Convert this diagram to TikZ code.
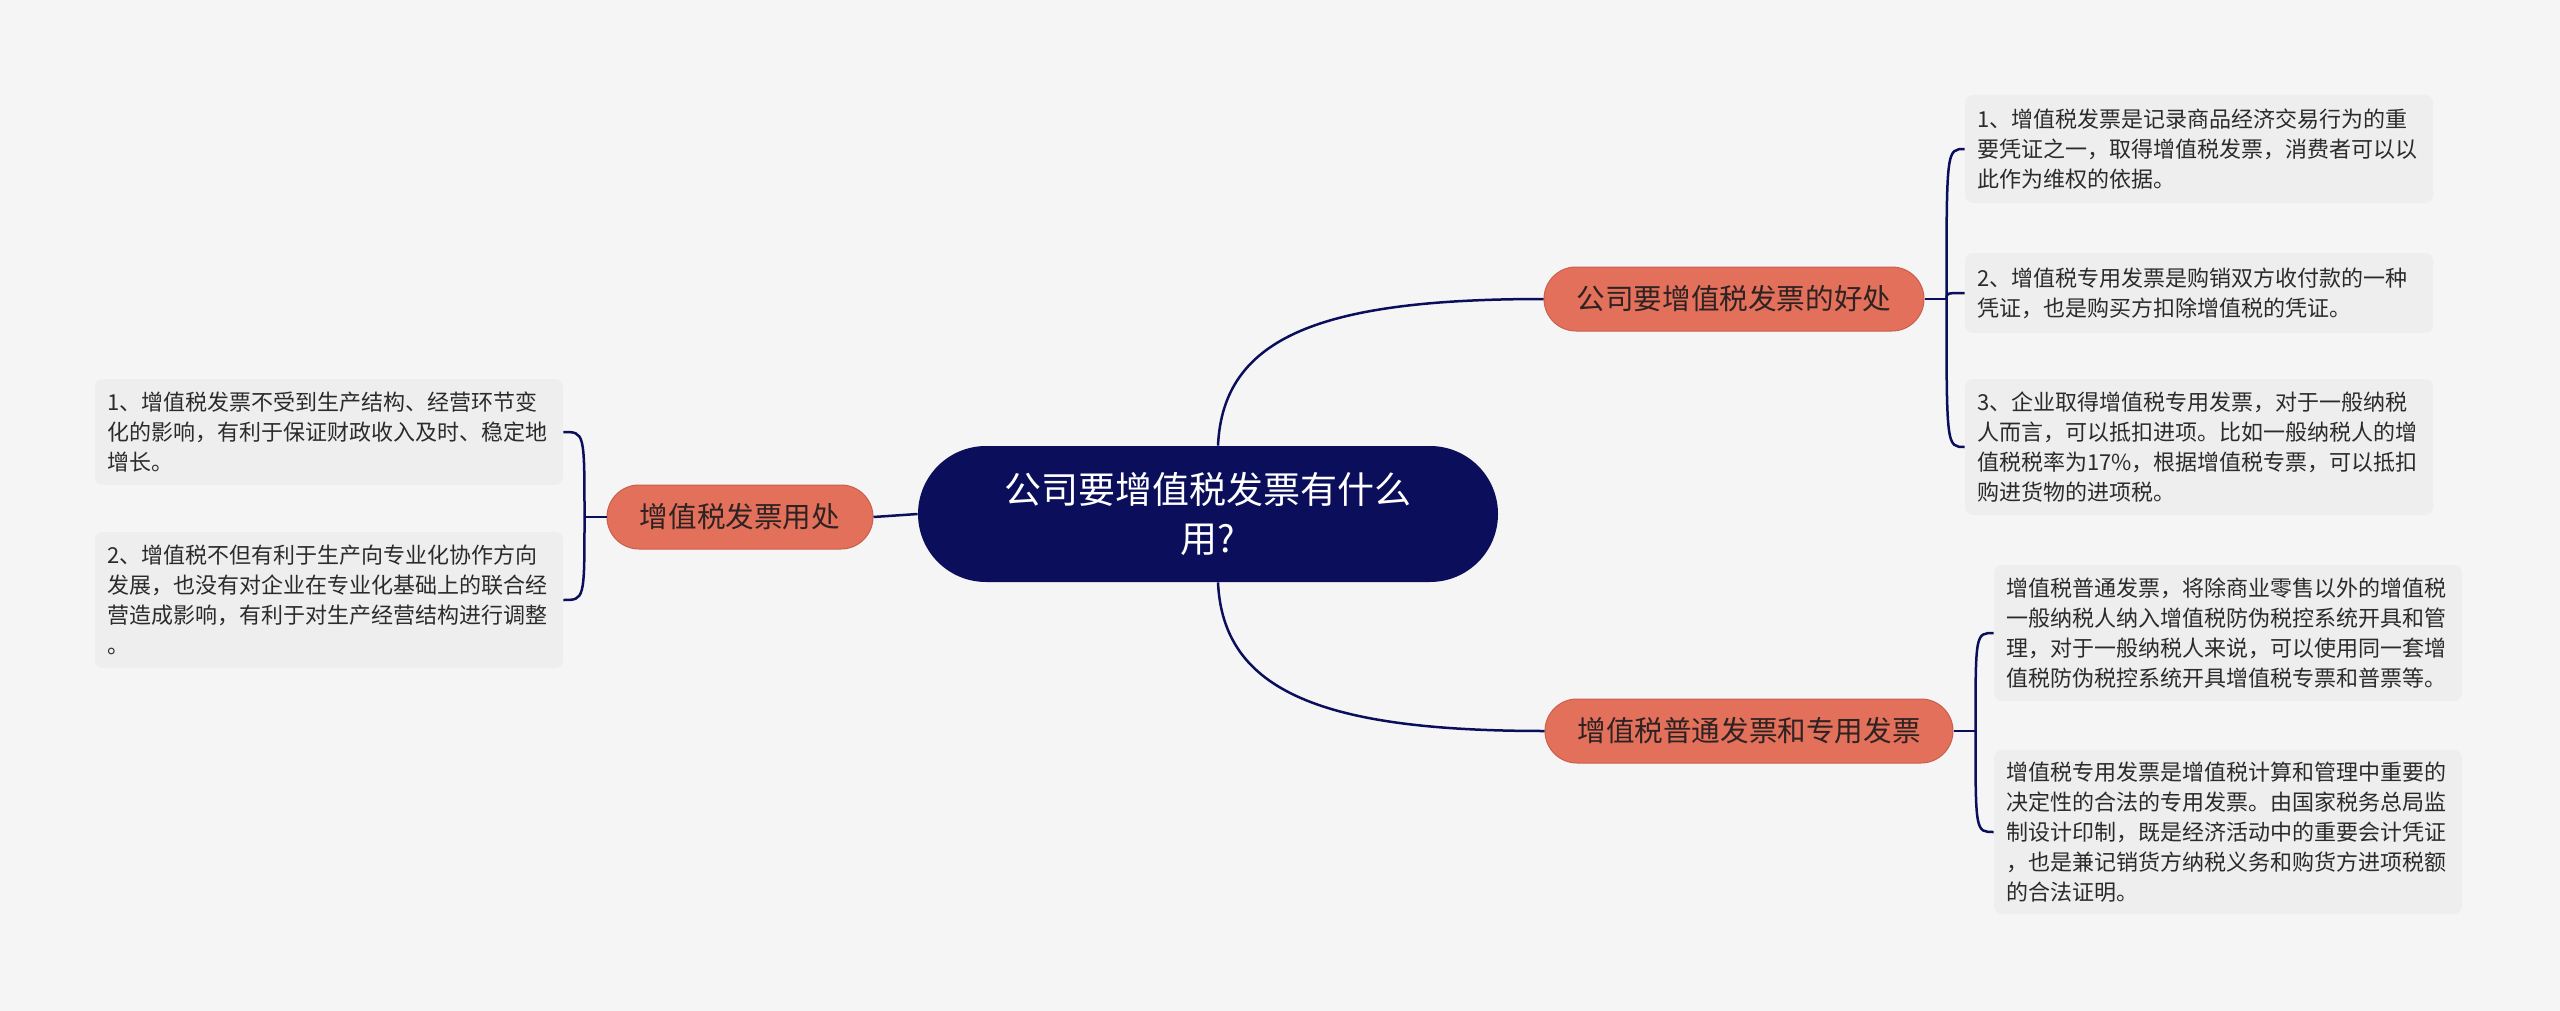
\documentclass[tikz,border=0pt]{standalone}
\usepackage{fontspec}
\setmainfont{Noto Sans CJK SC}
\usepackage{xcolor}
\usepackage{tikz}
\usetikzlibrary{calc}
\definecolor{navy}{HTML}{0B0F5B}
\definecolor{salmon}{HTML}{E3705A}
\definecolor{salmondark}{HTML}{C9604D}
\definecolor{leafgray}{HTML}{EEEEEE}
\definecolor{bggray}{HTML}{F5F5F5}
\definecolor{topictext}{HTML}{2E2222}
\definecolor{leaftext}{HTML}{2B2B2B}
\tikzstyle{rootnode}=[rectangle, fill=navy, text=white, rounded corners=34pt, minimum width=290pt, minimum height=68pt, align=center, font=\fontsize{18.5pt}{24.5pt}\selectfont]
\tikzstyle{topicnode}=[rectangle, fill=salmon, draw=salmondark, line width=0.5pt, rounded corners=16pt, minimum height=32pt, text=topictext, font=\fontsize{14.3pt}{16pt}\selectfont]
\tikzstyle{leafnode}=[rectangle, fill=leafgray, rounded corners=4pt, text width=222pt, inner xsep=6pt, inner ysep=4pt, align=left, text=leaftext, font=\fontsize{11pt}{15pt}\selectfont]
\begin{document}
\begin{tikzpicture}[x=0.5pt, y=-0.5pt]

\tikzset{link/.style={draw=navy, line width=1.25pt}}

\fill[bggray] (0,0) rectangle (2560,1011);
\useasboundingbox (0,0) rectangle (2560,1011);

% root and main topics
\node[rootnode] (root) at (1208,514) {公司要增值税发票有什么\\用?};
\node[topicnode, minimum width=190pt] (good) at (1734,299) {公司要增值税发票的好处};
\node[topicnode, minimum width=204pt] (kinds) at (1749,731) {增值税普通发票和专用发票};
\node[topicnode, minimum width=133pt] (use) at (740,517) {增值税发票用处};

% leaves right top
\node[leafnode, minimum height=54pt] (good1) at (2199,149) {1、增值税发票是记录商品经济交易行为的重\\要凭证之一，取得增值税发票，消费者可以以\\此作为维权的依据。};
\node[leafnode, minimum height=40pt] (good2) at (2199,293) {2、增值税专用发票是购销双方收付款的一种\\凭证，也是购买方扣除增值税的凭证。};
\node[leafnode, minimum height=68pt] (good3) at (2199,447) {3、企业取得增值税专用发票，对于一般纳税\\人而言，可以抵扣进项。比如一般纳税人的增\\值税税率为17\%，根据增值税专票，可以抵扣\\购进货物的进项税。};

% leaves right bottom
\node[leafnode, minimum height=68pt] (kinds1) at (2228,633) {增值税普通发票，将除商业零售以外的增值税\\一般纳税人纳入增值税防伪税控系统开具和管\\理，对于一般纳税人来说，可以使用同一套增\\值税防伪税控系统开具增值税专票和普票等。};
\node[leafnode, minimum height=82pt] (kinds2) at (2228,832) {增值税专用发票是增值税计算和管理中重要的\\决定性的合法的专用发票。由国家税务总局监\\制设计印制，既是经济活动中的重要会计凭证\\，也是兼记销货方纳税义务和购货方进项税额\\的合法证明。};

% leaves left
\node[leafnode, minimum height=53pt] (use1) at (329,432) {1、增值税发票不受到生产结构、经营环节变\\化的影响，有利于保证财政收入及时、稳定地\\增长。};
\node[leafnode, minimum height=68pt] (use2) at (329,600) {2、增值税不但有利于生产向专业化协作方向\\发展，也没有对企业在专业化基础上的联合经\\营造成影响，有利于对生产经营结构进行调整\\。};

% root -> topics
\draw[link] ($(root.north)+(10,0)$) .. controls +(5,-110) and +(-220,0) .. (good.west);
\draw[link] ($(root.south)+(10,0)$) .. controls +(5,110) and +(-220,0) .. (kinds.west);
\draw[link] (root.west) -- (use.east);

% topics -> leaves
\draw[link] (good.east) -- ++(22,0) coordinate (goodj);
\draw[link] (goodj) .. controls (goodj |- good1.west) .. (good1.west);
\draw[link] (goodj) .. controls (goodj |- good2.west) .. (good2.west);
\draw[link] (goodj) .. controls (goodj |- good3.west) .. (good3.west);

\draw[link] (kinds.east) -- ++(22,0) coordinate (kindsj);
\draw[link] (kindsj) .. controls (kindsj |- kinds1.west) .. (kinds1.west);
\draw[link] (kindsj) .. controls (kindsj |- kinds2.west) .. (kinds2.west);

\draw[link] (use.west) -- ++(-22,0) coordinate (usej);
\draw[link] (usej) .. controls (usej |- use1.east) .. (use1.east);
\draw[link] (usej) .. controls (usej |- use2.east) .. (use2.east);

\end{tikzpicture}
\end{document}
